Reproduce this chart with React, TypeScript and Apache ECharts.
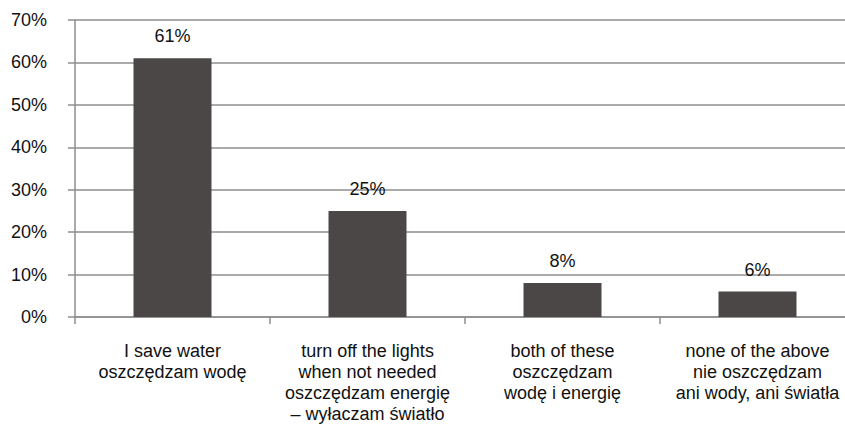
import React, { useEffect, useRef } from "react";
import * as echarts from "echarts";

// Survey answers (English / Polish) and their shares in percent
const categories: string[] = [
  "I save water\noszczędzam wodę",
  "turn off the lights\nwhen not needed\noszczędzam energię\n– wyłaczam światło",
  "both of these\noszczędzam\nwodę i energię",
  "none of the above\nnie oszczędzam\nani wody, ani światła",
];
const shares: number[] = [61, 25, 8, 6];
const yTicks = { min: 0, max: 70, interval: 10 };

const FONT = "'Liberation Sans', Arial, sans-serif";
const GRID_GRAY = "#8e8e8e";

export default function App() {
  const ref = useRef<HTMLDivElement>(null);

  useEffect(() => {
    if (!ref.current) return;
    const chart = echarts.init(ref.current, undefined, { renderer: "svg" });
    chart.setOption({
      animation: false,
      backgroundColor: "#ffffff",
      // the plot runs a little past the visible right edge
      grid: { left: 75, right: 0, top: 20, bottom: 106, containLabel: false },
      xAxis: {
        type: "category",
        data: categories,
        boundaryGap: true,
        axisLine: { show: true, lineStyle: { color: GRID_GRAY, width: 1.5 } },
        axisTick: { show: true, length: 7, lineStyle: { color: GRID_GRAY, width: 1.5 } },
        axisLabel: {
          color: "#111",
          fontFamily: FONT,
          fontSize: 18,
          lineHeight: 21,
          margin: 23,
          interval: 0,
          align: "center",
        },
      },
      yAxis: {
        type: "value",
        min: yTicks.min,
        max: yTicks.max,
        interval: yTicks.interval,
        axisLine: { show: true, lineStyle: { color: GRID_GRAY, width: 1.5 } },
        axisTick: { show: true, length: 7, lineStyle: { color: GRID_GRAY, width: 1.5 } },
        splitLine: { show: true, lineStyle: { color: GRID_GRAY, width: 1.5 } },
        axisLabel: {
          color: "#111",
          fontFamily: FONT,
          fontSize: 18,
          margin: 28,
          formatter: (v: number) => `${v}%`,
        },
      },
      series: [
        {
          type: "bar",
          data: shares,
          barWidth: 78,
          itemStyle: { color: "#4a4746" },
          label: {
            show: true,
            position: "top",
            distance: 13,
            color: "#111",
            fontFamily: FONT,
            fontSize: 18,
            formatter: (p: any) => `${p.value}%`,
          },
        },
      ],
    });
    return () => chart.dispose();
  }, []);

  return (
    <div
      style={{
        position: "absolute",
        left: 0,
        top: 0,
        width: 845,
        height: 424,
        overflow: "hidden",
        background: "#fff",
      }}
    >
      <div ref={ref} style={{ width: 855, height: 424 }} />
    </div>
  );
}
